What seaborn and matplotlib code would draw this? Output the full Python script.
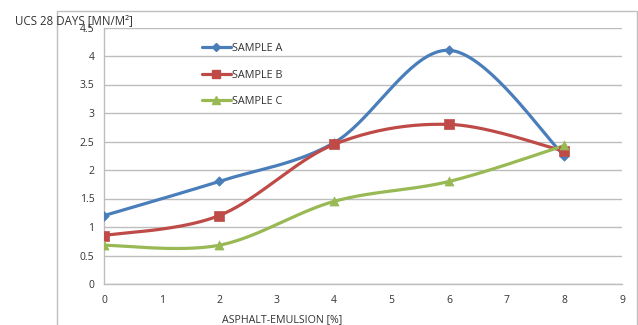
import numpy as np
import pandas as pd
import matplotlib
matplotlib.use("Agg")
import matplotlib.pyplot as plt
from matplotlib.lines import Line2D
from matplotlib.patches import Rectangle
import seaborn as sns

# ---- data ----
x_vals = [0, 2, 4, 6, 8]
sample_a = [1.2, 1.8, 2.48, 4.1, 2.25]
sample_b = [0.85, 1.2, 2.45, 2.8, 2.33]
sample_c = [0.68, 0.68, 1.45, 1.8, 2.43]
series_names = ["SAMPLE A", "SAMPLE B", "SAMPLE C"]
colors = ["#4A7EBB", "#BE4B48", "#98B954"]
markers = ["D", "s", "^"]
msizes = [4.8, 7, 6.5]
y_ticks = [0, 0.5, 1, 1.5, 2, 2.5, 3, 3.5, 4, 4.5]
x_ticks = list(range(0, 10))

sns.set_theme(style="white")
plt.rcParams['font.family'] = ['Open Sans', 'DejaVu Sans']


def smooth(xs, ys, n=40):
    """Excel-like smoothed line: cubic Bezier with Catmull-Rom control points."""
    xs = np.asarray(xs, float); ys = np.asarray(ys, float)
    P = np.column_stack([xs, ys])
    out = []
    for i in range(len(P) - 1):
        p0 = P[i - 1] if i > 0 else P[i]
        p1 = P[i]
        p2 = P[i + 1]
        p3 = P[i + 2] if i + 2 < len(P) else P[i + 1]
        c1 = p1 + (p2 - p0) / 6.0
        c2 = p2 - (p3 - p1) / 6.0
        t = np.linspace(0, 1, n)[:, None]
        seg = ((1 - t) ** 3) * p1 + 3 * ((1 - t) ** 2) * t * c1 + 3 * (1 - t) * t ** 2 * c2 + t ** 3 * p2
        out.append(seg if i == 0 else seg[1:])
    return np.vstack(out)


fig = plt.figure(figsize=(6.38, 3.25), dpi=100)
ax = fig.add_axes([104 / 638, 1 - 284 / 325, (622 - 104) / 638, (284 - 27.5) / 325])

# outer chart frame
fig.add_artist(Rectangle((56.5 / 638, -0.2), (637 - 56.5) / 638, 1.2 - 10.5 / 325,
                         transform=fig.transFigure, fill=False, edgecolor="#BFBFBF", lw=1.0))

all_series = [sample_a, sample_b, sample_c]
handles = []
for name, ys, c, m, ms in zip(series_names, all_series, colors, markers, msizes):
    curve = smooth(x_vals, ys)
    dfc = pd.DataFrame({"x": curve[:, 0], "y": curve[:, 1]})
    sns.lineplot(data=dfc, x="x", y="y", ax=ax, color=c, lw=2.3, sort=False,
                 estimator=None, legend=False, zorder=3)
    dfp = pd.DataFrame({"x": x_vals, "y": ys})
    sns.scatterplot(data=dfp, x="x", y="y", ax=ax, color=c, marker=m, s=ms ** 2,
                    edgecolor=c, linewidth=0.5, legend=False, zorder=4)
    handles.append(Line2D([], [], color=c, lw=2.3, marker=m, markersize=ms * 0.85,
                          markeredgecolor=c, label=name))

ax.set_xlim(0, 9)
ax.set_ylim(0, 4.5)
ax.set_xticks(x_ticks)
ax.set_yticks(y_ticks)
ax.set_xticklabels([str(v) for v in x_ticks])
ax.set_yticklabels([f"{v:g}" for v in y_ticks])
ax.yaxis.grid(True, color="#BDBDBD", lw=1.0)
ax.xaxis.grid(False)
ax.set_axisbelow(True)
for s in ["top", "right"]:
    ax.spines[s].set_visible(False)
for s in ["left", "bottom"]:
    ax.spines[s].set_color("#BDBDBD")
    ax.spines[s].set_linewidth(1.0)
ax.tick_params(axis="both", which="both", length=4, width=1.0, color="#BDBDBD",
               labelsize=7.5, labelcolor="#333333", direction="out")
ax.tick_params(axis="x", pad=4)
ax.tick_params(axis="y", pad=3)
ax.set_xlabel("")
ax.set_ylabel("")

fig.text(15 / 638, 1 - 21 / 325, "UCS 28 DAYS [MN/M²]", fontsize=8.3, color="#333333",
         ha="left", va="center")
fig.text(282 / 638, 1 - 320 / 325, "ASPHALT-EMULSION [%]", fontsize=7.7, color="#333333",
         ha="center", va="center")

leg = ax.legend(handles=handles, loc="upper left", bbox_to_anchor=(94 / 518, 1 - 11 / 256.5),
                frameon=False, fontsize=7.8, handlelength=2.6, handletextpad=0.1,
                labelspacing=1.45, borderaxespad=0)
for t in leg.get_texts():
    t.set_color("#333333")

fig.savefig("out.png", dpi=100)
